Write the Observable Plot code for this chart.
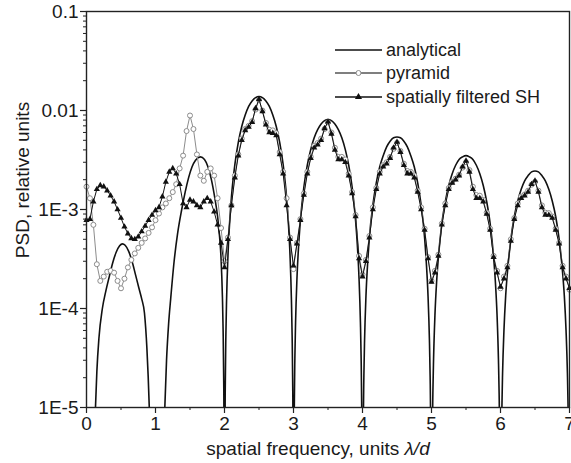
<!DOCTYPE html>
<html><head><meta charset="utf-8">
<script src="https://cdn.jsdelivr.net/npm/d3@7"></script>
<script src="https://cdn.jsdelivr.net/npm/@observablehq/plot@0.6"></script>
<style>
body{margin:0;background:#fff;}
#wrap{position:relative;width:571px;height:463px;}
</style></head><body><div id="wrap"></div>
<script>
// measured spectra sampled every 0.05 lambda/d from 0 to 7
const freqStep = 0.05;
const pyramid = [
1.7e-3,1.3e-3,7.0e-4,2.8e-4,1.9e-4,2.1e-4,2.35e-4,2.4e-4,2.3e-4,1.9e-4,1.6e-4,2.0e-4,2.6e-4,3.1e-4,3.6e-4,4.1e-4,4.6e-4,5.1e-4,5.8e-4,6.6e-4,
7.8e-4,9.1e-4,1.05e-3,1.15e-3,1.3e-3,1.5e-3,1.8e-3,2.6e-3,3.5e-3,6.2e-3,8.9e-3,6.5e-3,3.6e-3,2.2e-3,1.95e-3,2.4e-3,2.6e-3,2.2e-3,1.3e-3,6.5e-4,3.0e-4,
5.2e-4,1.1e-3,2.2e-3,3.6e-3,5.2e-3,6.5e-3,7.0e-3,7.8e-3,1.02e-2,1.28e-2,1.0e-2,7.5e-3,6.4e-3,6.3e-3,5.9e-3,3.8e-3,2.4e-3,1.3e-3,5.2e-4,2.5e-4,
4.6e-4,8.0e-4,1.45e-3,2.4e-3,3.4e-3,4.4e-3,4.7e-3,5.2e-3,6.5e-3,7.6e-3,6.0e-3,4.2e-3,3.4e-3,3.4e-3,3.2e-3,2.3e-3,1.5e-3,8.8e-4,3.4e-4,2.2e-4,
3.1e-4,5.4e-4,1.05e-3,1.65e-3,2.4e-3,2.8e-3,3.0e-3,3.4e-3,4.1e-3,4.7e-3,3.9e-3,2.9e-3,2.45e-3,2.4e-3,2.2e-3,1.55e-3,1.05e-3,6.4e-4,3.3e-4,1.9e-4,
2.4e-4,3.5e-4,7.2e-4,1.15e-3,1.65e-3,1.9e-3,2.05e-3,2.25e-3,2.65e-3,3.0e-3,2.5e-3,1.7e-3,1.4e-3,1.38e-3,1.25e-3,9.3e-4,6.4e-4,3.4e-4,2.4e-4,1.6e-4,
2.1e-4,2.7e-4,5.0e-4,8.2e-4,1.15e-3,1.35e-3,1.42e-3,1.55e-3,1.78e-3,1.9e-3,1.55e-3,1.1e-3,9.3e-4,9.2e-4,8.5e-4,6.4e-4,4.6e-4,2.7e-4,2.1e-4,1.55e-4
];
const filteredSH = [
7.8e-4,8.0e-4,1.2e-3,1.6e-3,1.75e-3,1.7e-3,1.55e-3,1.38e-3,1.2e-3,1.0e-3,8.2e-4,6.7e-4,5.7e-4,5.1e-4,5.0e-4,5.3e-4,6.0e-4,6.8e-4,7.8e-4,8.8e-4,
9.8e-4,1.05e-3,1.35e-3,1.9e-3,2.4e-3,2.6e-3,2.3e-3,1.8e-3,1.15e-3,1.05e-3,1.25e-3,1.2e-3,1.1e-3,1.05e-3,1.2e-3,1.3e-3,1.2e-3,9.5e-4,7.0e-4,4.6e-4,2.6e-4,
5.0e-4,1.1e-3,2.1e-3,3.5e-3,5.0e-3,6.3e-3,6.8e-3,7.6e-3,1.05e-2,1.3e-2,9.8e-3,7.2e-3,6.0e-3,5.9e-3,5.6e-3,3.6e-3,2.3e-3,1.1e-3,5.0e-4,2.7e-4,
4.5e-4,7.8e-4,1.4e-3,2.3e-3,3.3e-3,4.2e-3,4.5e-3,5.0e-3,6.6e-3,7.7e-3,5.8e-3,4.0e-3,3.2e-3,3.2e-3,3.0e-3,2.2e-3,1.45e-3,8.5e-4,3.2e-4,2.1e-4,
3.0e-4,5.2e-4,1.0e-3,1.6e-3,2.3e-3,2.7e-3,2.9e-3,3.3e-3,4.2e-3,4.8e-3,3.8e-3,2.8e-3,2.3e-3,2.3e-3,2.1e-3,1.5e-3,1.0e-3,6.2e-4,3.2e-4,1.85e-4,
2.3e-4,3.4e-4,7.0e-4,1.1e-3,1.6e-3,1.85e-3,2.0e-3,2.2e-3,2.7e-3,3.1e-3,2.4e-3,1.6e-3,1.3e-3,1.3e-3,1.2e-3,9.0e-4,6.2e-4,3.3e-4,2.3e-4,1.65e-4,
2.0e-4,2.6e-4,4.8e-4,8.0e-4,1.1e-3,1.3e-3,1.38e-3,1.5e-3,1.8e-3,1.95e-3,1.5e-3,1.05e-3,8.8e-4,8.8e-4,8.2e-4,6.2e-4,4.5e-4,2.6e-4,2.0e-4,1.6e-4
];
// analytical curve
const analyticFreq = [
0.09,0.11,0.13,0.15,0.18,0.23,0.28,0.33,0.38,0.43,0.48,0.52,0.56,0.61,0.66,0.71,0.76,0.80,0.84,0.875,0.91,0.93,
1.10,1.12,1.135,1.16,1.19,1.22,1.27,1.32,1.38,1.43,1.48,1.53,1.58,1.65,1.71,1.76,1.81,1.86,1.90,1.93,1.95,1.97,1.98,1.99,1.995,
2.005,2.01,2.02,2.03,2.05,2.075,2.1,2.15,2.2,2.25,2.3,2.35,2.4,2.45,2.5,2.55,2.6,2.65,2.7,2.75,2.8,2.85,2.9,2.925,2.95,2.97,2.98,2.99,2.995,
3.005,3.01,3.02,3.03,3.05,3.075,3.1,3.15,3.2,3.25,3.3,3.35,3.4,3.45,3.5,3.55,3.6,3.65,3.7,3.75,3.8,3.85,3.9,3.925,3.95,3.97,3.98,3.99,3.995,
4.005,4.01,4.02,4.03,4.05,4.075,4.1,4.15,4.2,4.25,4.3,4.35,4.4,4.45,4.5,4.55,4.6,4.65,4.7,4.75,4.8,4.85,4.9,4.925,4.95,4.97,4.98,4.99,4.995,
5.005,5.01,5.02,5.03,5.05,5.075,5.1,5.15,5.2,5.25,5.3,5.35,5.4,5.45,5.5,5.55,5.6,5.65,5.7,5.75,5.8,5.85,5.9,5.925,5.95,5.97,5.98,5.99,5.995,
6.005,6.01,6.02,6.03,6.05,6.075,6.1,6.15,6.2,6.25,6.3,6.35,6.4,6.45,6.5,6.55,6.6,6.65,6.7,6.75,6.8,6.85,6.9,6.925,6.95,6.97,6.98,6.99,6.995
];
const analyticPSD = [
5e-7,3e-6,1e-5,2.3e-5,5e-5,1.0e-4,1.5e-4,2.1e-4,2.9e-4,3.7e-4,4.3e-4,4.5e-4,4.35e-4,3.8e-4,3.0e-4,2.2e-4,1.6e-4,1.25e-4,9e-5,4e-5,1e-5,3e-6,
5e-7,4e-6,1e-5,3e-5,7e-5,1.25e-4,3e-4,5.7e-4,1.0e-3,1.5e-3,2.1e-3,2.7e-3,3.15e-3,3.4e-3,3.2e-3,2.7e-3,2.0e-3,1.3e-3,8.5e-4,5.2e-4,3.2e-4,1.3e-4,6e-5,1.5e-5,4e-6,
3.4e-6,1.36e-5,5.4e-5,1.22e-4,3.4e-4,7.5e-4,1.32e-3,2.84e-3,4.76e-3,6.9e-3,9.0e-3,1.10e-2,1.25e-2,1.35e-2,1.38e-2,1.35e-2,1.25e-2,1.10e-2,9.0e-3,6.9e-3,4.76e-3,2.84e-3,1.32e-3,7.5e-4,3.4e-4,1.22e-4,5.4e-5,1.36e-5,3.4e-6,
2e-6,8e-6,3.2e-5,7.2e-5,2.0e-4,4.4e-4,7.7e-4,1.67e-3,2.8e-3,4.05e-3,5.3e-3,6.4e-3,7.3e-3,7.9e-3,8.1e-3,7.9e-3,7.3e-3,6.4e-3,5.3e-3,4.05e-3,2.8e-3,1.67e-3,7.7e-4,4.4e-4,2.0e-4,7.2e-5,3.2e-5,8e-6,2e-6,
1.3e-6,5.3e-6,2.1e-5,4.8e-5,1.32e-4,2.9e-4,5.2e-4,1.11e-3,1.86e-3,2.7e-3,3.5e-3,4.3e-3,4.9e-3,5.3e-3,5.4e-3,5.3e-3,4.9e-3,4.3e-3,3.5e-3,2.7e-3,1.86e-3,1.11e-3,5.2e-4,2.9e-4,1.32e-4,4.8e-5,2.1e-5,5.3e-6,1.3e-6,
9e-7,3.5e-6,1.4e-5,3.1e-5,8.6e-5,1.9e-4,3.3e-4,7.2e-4,1.2e-3,1.75e-3,2.3e-3,2.8e-3,3.2e-3,3.4e-3,3.5e-3,3.4e-3,3.2e-3,2.8e-3,2.3e-3,1.75e-3,1.2e-3,7.2e-4,3.3e-4,1.9e-4,8.6e-5,3.1e-5,1.4e-5,3.5e-6,9e-7,
6e-7,2.4e-6,9.7e-6,2.2e-5,6e-5,1.34e-4,2.3e-4,5.0e-4,8.5e-4,1.22e-3,1.6e-3,1.95e-3,2.2e-3,2.4e-3,2.45e-3,2.4e-3,2.2e-3,1.95e-3,1.6e-3,1.22e-3,8.5e-4,5.0e-4,2.3e-4,1.34e-4,6e-5,2.2e-5,9.7e-6,2.4e-6,6e-7
];
const seriesNames = ["analytical", "pyramid", "spatially filtered SH"];
const yTickValues = [1e-5, 1e-4, 1e-3, 1e-2, 1e-1];
const yTickLabels = ["1E-5", "1E-4", "1E-3", "0.01", "0.1"];
const yMinorMultipliers = [2, 3, 4, 5, 6, 7, 8, 9];
const xTickValues = [0, 1, 2, 3, 4, 5, 6, 7];
const xMinorTicks = [0.5, 1.5, 2.5, 3.5, 4.5, 5.5, 6.5];
const xLabel = "spatial frequency, units ";
const xLabelUnit = "λ/d";
const yLabel = "PSD, relative units";

const yMinorTicks = yTickValues.slice(0, -1).flatMap(d => yMinorMultipliers.map(m => d * m));
const measured = pyramid.map((v, i) => ({f: +(i * freqStep).toFixed(2), pyr: v, sh: filteredSH[i]}));
const analytic = analyticFreq.map((f, i) => ({f, v: analyticPSD[i]}));

const FONT = "'Liberation Sans', Arial, sans-serif";
const ink = "#1a1a1a";

const chart = Plot.plot({
  width: 571, height: 463,
  marginTop: 11, marginRight: 2, marginBottom: 56, marginLeft: 86,
  style: {fontFamily: FONT, background: "white", color: ink},
  x: {domain: [0, 7]},
  y: {type: "log", domain: [1e-5, 0.1]},
  marks: [
    Plot.line(analytic, {x: "f", y: "v", stroke: "#111", strokeWidth: 1.6, curve: "monotone-x", clip: true}),
    Plot.line(measured, {x: "f", y: "pyr", stroke: "#8c8c8c", strokeWidth: 1}),
    Plot.dot(measured, {x: "f", y: "pyr", r: 2.5, stroke: "#8c8c8c", fill: "white", strokeWidth: 1}),
    Plot.line(measured, {x: "f", y: "sh", stroke: "#111", strokeWidth: 1}),
    Plot.dot(measured, {x: "f", y: "sh", symbol: "triangle", r: 2.3, fill: "#111", stroke: "none"}),
    Plot.frame({stroke: "#222", strokeWidth: 1.4}),
    Plot.axisY({ticks: yTickValues, tickFormat: d => yTickLabels[yTickValues.indexOf(d)], tickSize: 6, tickPadding: 2, fontSize: 19, label: null, stroke: "#222", strokeWidth: 1.2}),
    Plot.axisY({ticks: yMinorTicks, tickSize: 3, text: null, label: null, stroke: "#222"}),
    Plot.axisX({ticks: xTickValues, tickFormat: d => String(d), tickSize: 6, tickPadding: 3, fontSize: 19, label: null, stroke: "#222", strokeWidth: 1.2}),
    Plot.axisX({ticks: xMinorTicks, tickSize: 3, text: null, label: null, stroke: "#222"})
  ]
});
document.getElementById("wrap").appendChild(chart);

const svg = d3.select(chart);
// axis titles
svg.append("text")
  .attr("transform", "translate(22,180) rotate(-90)")
  .attr("text-anchor", "middle").attr("dominant-baseline", "central")
  .attr("font-family", FONT).attr("font-size", 19).attr("fill", ink)
  .text(yLabel);
const xt = svg.append("text")
  .attr("x", 318).attr("y", 448)
  .attr("text-anchor", "middle").attr("dominant-baseline", "central")
  .attr("font-family", FONT).attr("font-size", 19).attr("fill", ink);
xt.append("tspan").text(xLabel);
xt.append("tspan").attr("font-style", "italic").text(xLabelUnit);

// legend
const leg = svg.append("g").attr("font-family", FONT).attr("font-size", 18).attr("fill", ink).attr("text-anchor", "start");
const legY = [50, 73, 97];
seriesNames.forEach((name, i) => {
  const g = leg.append("g").attr("transform", `translate(0,${legY[i]})`);
  g.append("line").attr("x1", 335).attr("x2", 382).attr("y1", 0).attr("y2", 0)
    .attr("stroke", i === 1 ? "#555" : "#111").attr("stroke-width", i === 0 ? 1.6 : 1.3);
  if (i === 1) g.append("circle").attr("cx", 358.5).attr("cy", 0).attr("r", 2.5).attr("fill", "white").attr("stroke", "#8c8c8c");
  if (i === 2) g.append("path").attr("d", d3.symbol(d3.symbolTriangle, 22)()).attr("transform", "translate(358.5,0)").attr("fill", "#111");
  g.append("text").attr("x", 386).attr("y", 0).attr("dominant-baseline", "central").attr("text-anchor", "start").text(name);
});
</script></body></html>
